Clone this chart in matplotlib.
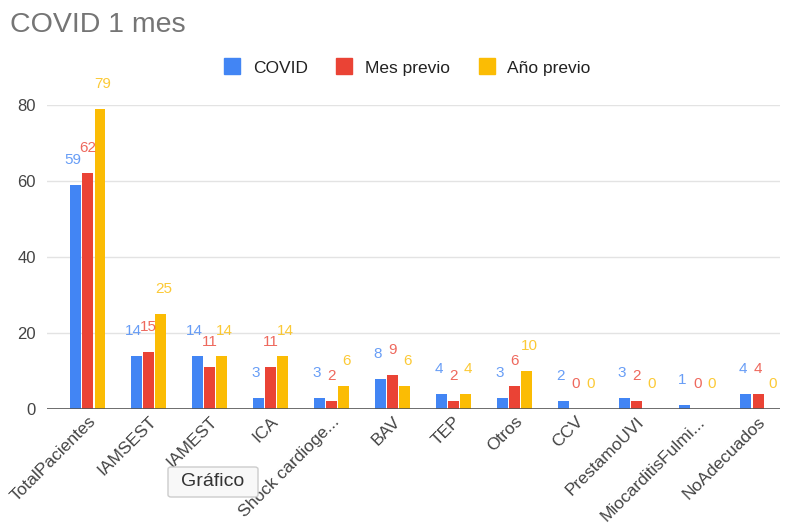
import matplotlib
matplotlib.use('Agg')
import matplotlib.pyplot as plt
from matplotlib.patches import FancyBboxPatch
from matplotlib.lines import Line2D
import numpy as np

plt.rcParams['font.family'] = ['Liberation Sans', 'DejaVu Sans']

# ── datos ─────────────────────────────────────────────────────────────────────
categorias = ['TotalPacientes', 'IAMSEST', 'IAMEST', 'ICA', 'Shock cardioge...',
              'BAV', 'TEP', 'Otros', 'CCV', 'PrestamoUVI', 'MiocarditisFulmi...',
              'NoAdecuados']
covid = [59, 14, 14, 3, 3, 8, 4, 3, 2, 3, 1, 4]
mes_previo = [62, 15, 11, 11, 2, 9, 2, 6, 0, 2, 0, 4]
anio_previo = [79, 25, 14, 14, 6, 6, 4, 10, 0, 0, 0, 0]
series = ['COVID', 'Mes previo', 'Año previo']
colores = ['#4285F4', '#EA4335', '#FBBC04']

W, H = 793, 528
fig = plt.figure(figsize=(W / 100, H / 100), dpi=100)
ax = fig.add_axes([47 / W, 1 - 409 / H, (780 - 47) / W, (409 - 105) / H])

x = np.arange(len(categorias))
bw = 0.2
for i, (vals, col) in enumerate(zip([covid, mes_previo, anio_previo], colores)):
    pos = x + (i - 1) * bw
    ax.bar(pos, vals, width=0.18, color=col, zorder=3)
    for px, v in zip(pos, vals):
        # separar un poco las etiquetas de los extremos
        ax.annotate(str(v), (px, v), xytext=((i - 1) * 2, 13),
                    textcoords='offset points', ha='center', va='bottom',
                    color=col, alpha=0.8, fontsize=11, zorder=4)

ax.set_xlim(-0.67, 11.36)
ax.set_ylim(0, 80)
ax.set_yticks([0, 20, 40, 60, 80])
ax.grid(axis='y', color='#e3e3e3', linewidth=1, zorder=0)
ax.axhline(0, color='#555555', linewidth=1.2, zorder=5)
for s in ax.spines.values():
    s.set_visible(False)
ax.tick_params(length=0, colors='#444444', labelsize=12)
ax.tick_params(axis='y', pad=8)
ax.set_xticks(x)
ax.set_xticklabels(categorias, rotation=45, ha='right', rotation_mode='anchor',
                   color='#444444', fontsize=12.5)

fig.text(10 / W, 1 - 25 / H, 'COVID 1 mes', fontsize=20.5, color='#757575',
         va='center', ha='left')

handles = [Line2D([], [], marker='s', linestyle='none', markersize=11,
                  markerfacecolor=c, markeredgecolor=c) for c in colores]
fig.legend(handles, series, loc='center', ncol=3, frameon=False,
           bbox_to_anchor=(407 / W, 1 - 68 / H), fontsize=12.5,
           handlelength=1.0, handletextpad=0.7, columnspacing=1.6,
           labelcolor='#222222')

# tooltip "Gráfico"
tip = FancyBboxPatch((168 / W, 1 - 497 / H), 90 / W, 30 / H,
                     boxstyle='round,pad=0,rounding_size=0.004',
                     transform=fig.transFigure, facecolor='#f8f8f8',
                     edgecolor='#cccccc', linewidth=1, zorder=10)
fig.patches.append(tip)
fig.text(213 / W, 1 - 482 / H, 'Gráfico', fontsize=14, color='#333333',
         ha='center', va='center', zorder=11)

fig.savefig('out.png', dpi=100)
